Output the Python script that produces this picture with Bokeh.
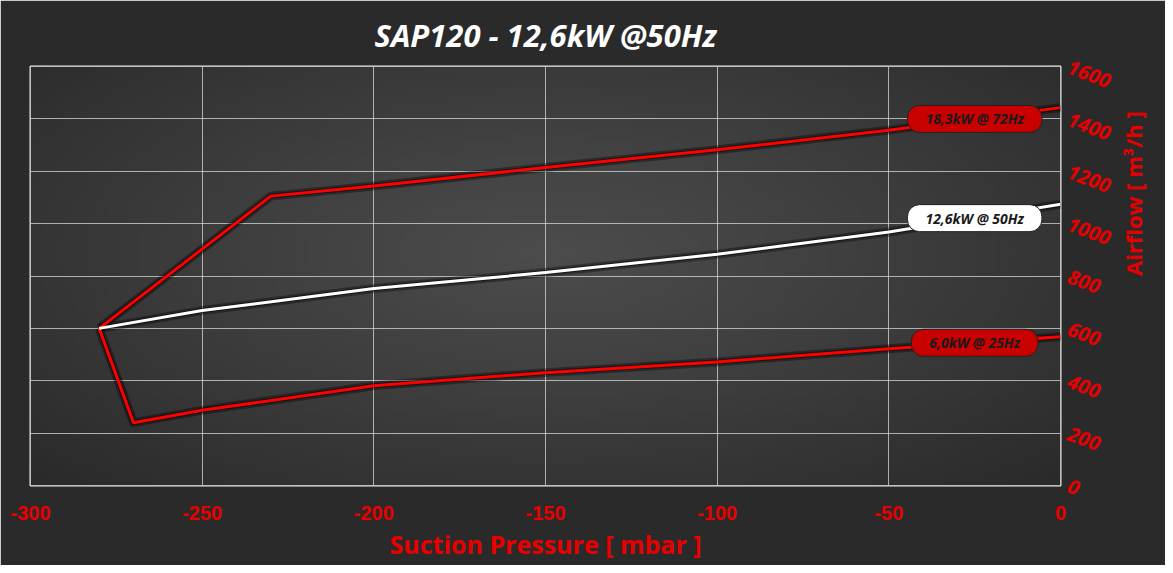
import numpy as np
from math import pi
from bokeh.plotting import figure
from bokeh.models import FixedTicker, Label, Range1d
from bokeh.embed import file_html
from bokeh.resources import INLINE

# ---------------- data ----------------
pressure_72 = [-280, -230, -200, -150, -100, -50, 0]
airflow_72 = [600, 1105, 1144, 1214, 1282, 1357, 1443]

pressure_50 = [-280, -250, -200, -150, -100, -50, 0]
airflow_50 = [600, 668, 752, 813, 883, 968, 1074]

pressure_25 = [-280, -270, -250, -200, -150, -100, -50, 0]
airflow_25 = [600, 240, 287, 381, 431, 472, 522, 568]

series_labels = ["18,3kW @ 72Hz", "12,6kW @ 50Hz", "6,0kW @ 25Hz"]
label_pressure = -25

x_ticks = [-300, -250, -200, -150, -100, -50, 0]
y_ticks = [0, 200, 400, 600, 800, 1000, 1200, 1400, 1600]

title_text = "SAP120 - 12,6kW @50Hz"
x_title = "Suction Pressure [ mbar ]"
y_title = "Airflow [ m³/h ]"

RED = "#ff0000"
TEXT_RED = "#e80000"
X0, X1, Y0, Y1 = -300, 0, 0, 1600

p = figure(width=1165, height=565, x_range=Range1d(X0, X1), y_range=Range1d(Y0, Y1),
           y_axis_location="right", output_backend="svg", toolbar_location=None,
           min_border_left=30, min_border_right=104, min_border_top=66, min_border_bottom=80)

p.background_fill_color = "#3a3a3a"
p.border_fill_color = "#2a2a2a"
p.outline_line_color = "#f0f0f0"
p.outline_line_width = 2

# radial gradient background in the plot frame
ny, nx = 80, 160
yy, xx = np.mgrid[0:ny, 0:nx]
r = np.sqrt(((xx - nx * 0.5) / (nx * 0.5)) ** 2 + ((yy - ny * 0.55) / (ny * 0.55)) ** 2) / np.sqrt(2)
v = np.clip(76 - 34 * r ** 1.1, 0, 255).astype(np.uint8)
img = np.empty((ny, nx), dtype=np.uint32)
view = img.view(dtype=np.uint8).reshape((ny, nx, 4))
view[:, :, 0] = v
view[:, :, 1] = v
view[:, :, 2] = v
view[:, :, 3] = 255
p.image_rgba(image=[img], x=X0, y=Y0, dw=X1 - X0, dh=Y1 - Y0, level="image")

# grid
p.xgrid.ticker = FixedTicker(ticks=x_ticks)
p.ygrid.ticker = FixedTicker(ticks=y_ticks)
p.grid.grid_line_color = "#d0d0d0"
p.grid.grid_line_alpha = 0.8
p.grid.grid_line_width = 1

# title
p.title.text = title_text
p.title.text_font = "Open Sans"
p.title.text_font_style = "bold italic"
p.title.text_font_size = "31px"
p.title.text_color = "white"
p.title.align = "center"
p.title.standoff = 22

# x axis
xa = p.xaxis[0]
xa.ticker = FixedTicker(ticks=x_ticks)
xa.major_label_overrides = {t: str(t) for t in x_ticks}
xa.axis_line_color = None
xa.major_tick_line_color = None
xa.minor_tick_line_color = None
xa.major_label_text_font = "Liberation Sans"
xa.major_label_text_font_style = "bold"
xa.major_label_text_font_size = "20px"
xa.major_label_text_color = TEXT_RED
xa.major_label_standoff = 14
xa.axis_label = x_title
xa.axis_label_text_font = "Open Sans"
xa.axis_label_text_font_style = "bold"
xa.axis_label_text_font_size = "25px"
xa.axis_label_text_color = TEXT_RED
xa.axis_label_standoff = 4

# y axis (right)
ya = p.yaxis[0]
ya.ticker = FixedTicker(ticks=y_ticks)
ya.axis_line_color = None
ya.major_tick_line_color = None
ya.minor_tick_line_color = None
ya.major_label_text_font = "Open Sans"
ya.major_label_text_font_style = "bold italic"
ya.major_label_text_font_size = "20px"
ya.major_label_text_color = TEXT_RED
ya.major_label_orientation = -0.36
ya.major_label_standoff = 2
ya.axis_label = y_title
ya.axis_label_text_font = "Open Sans"
ya.axis_label_text_font_style = "bold"
ya.axis_label_text_font_size = "22px"
ya.axis_label_text_color = TEXT_RED
ya.axis_label_text_line_height = 0.9
ya.axis_label_orientation = pi / 2
ya.axis_label_standoff = 15

# line shadows
for xs, ys in [(pressure_72, airflow_72), (pressure_50, airflow_50), (pressure_25, airflow_25)]:
    p.line(xs, ys, line_color="black", line_width=9, line_alpha=0.35, line_join="round")
    p.line(xs, ys, line_color="black", line_width=5, line_alpha=0.5, line_join="round")

p.line(pressure_72, airflow_72, line_color=RED, line_width=3, line_join="round")
p.line(pressure_25, airflow_25, line_color=RED, line_width=3, line_join="round")
p.line(pressure_50, airflow_50, line_color="white", line_width=3, line_join="round")

# data labels
label_specs = [
    (series_labels[0], float(np.interp(label_pressure, pressure_72, airflow_72)), "#c80000"),
    (series_labels[1], float(np.interp(label_pressure, pressure_50, airflow_50)), "#ffffff"),
    (series_labels[2], float(np.interp(label_pressure, pressure_25, airflow_25)), "#c80000"),
]
pad = dict(left=18, right=18, top=4, bottom=4)
for text, yv, fill in label_specs:
    shadow = Label(x=label_pressure, y=yv, text=text, text_align="center", text_baseline="middle",
                   text_font="Open Sans", text_font_style="bold italic", text_font_size="14px",
                   text_alpha=0.0, x_offset=2, y_offset=-2,
                   background_fill_color="black", background_fill_alpha=0.55,
                   border_radius=12, padding=pad)
    p.add_layout(shadow)
    lab = Label(x=label_pressure, y=yv, text=text, text_align="center", text_baseline="middle",
                text_font="Open Sans", text_font_style="bold italic", text_font_size="14px",
                text_color="#1a1a1a",
                background_fill_color=fill, border_line_color="#222222", border_line_width=1,
                border_radius=12, padding=pad)
    p.add_layout(lab)

open("out.html", "w").write(file_html(p, INLINE))
